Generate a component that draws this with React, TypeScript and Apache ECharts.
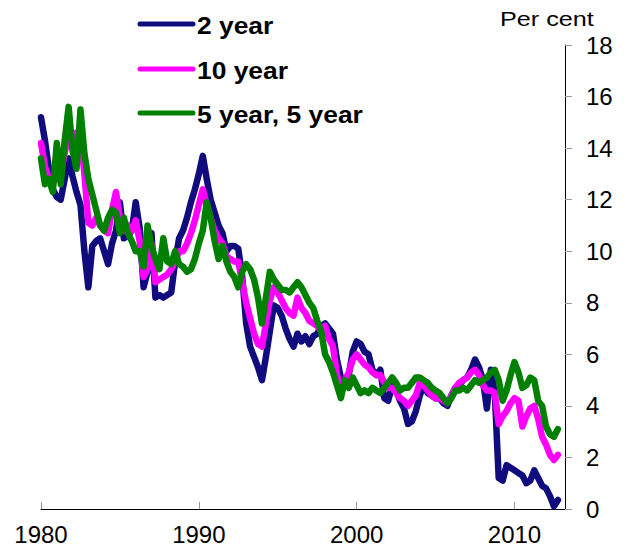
import React, { useEffect, useRef } from "react";
import * as echarts from "echarts";

// Quarterly observations, 1980 Q1 .. 2012 Q4
const startYear = 1980;
const quarters = 132;
const dates: number[] = Array.from({ length: quarters }, (_, i) => startYear + i / 4);

const twoYear: number[] = [
  15.2, 14.3, 13.2, 12.4, // 1980
  12.1, 12.0, 12.8, 13.6, // 1981
  12.9, 12.3, 11.8, 10.0, // 1982
  8.6, 10.2, 10.4, 10.5, // 1983
  10.0, 9.5, 10.3, 10.8, // 1984
  11.9, 10.5, 10.6, 10.8, // 1985
  11.9, 10.9, 8.6, 9.2, // 1986
  10.7, 8.2, 8.3, 8.2, // 1987
  8.3, 8.4, 9.6, 10.5, // 1988
  10.8, 11.3, 11.9, 12.4, // 1989
  13.0, 13.7, 12.8, 12.0, // 1990
  11.5, 11.0, 10.7, 10.0, // 1991
  10.2, 10.2, 10.1, 9.0, // 1992
  7.2, 6.3, 5.9, 5.5, // 1993
  5.0, 5.9, 6.9, 7.9, // 1994
  7.8, 7.5, 7.0, 6.6, // 1995
  6.3, 6.8, 6.5, 6.7, // 1996
  6.4, 6.7, 6.8, 7.1, // 1997
  7.2, 7.0, 6.8, 5.8, // 1998
  5.1, 4.8, 5.2, 6.1, // 1999
  6.5, 6.4, 6.1, 6.0, // 2000
  5.4, 5.2, 5.4, 4.3, // 2001
  4.2, 4.8, 4.6, 4.2, // 2002
  3.9, 3.3, 3.4, 3.8, // 2003
  4.4, 4.8, 4.5, 4.4, // 2004
  4.3, 4.3, 4.1, 4.0, // 2005
  4.4, 4.7, 4.8, 5.0, // 2006
  5.1, 5.4, 5.8, 5.5, // 2007
  5.0, 3.9, 5.4, 4.5, // 2008
  1.2, 1.1, 1.7, 1.6, // 2009
  1.5, 1.4, 1.3, 1.0, // 2010
  1.1, 1.5, 1.2, 0.9, // 2011
  0.8, 0.5, 0.1, 0.35, // 2012
];

const tenYear: number[] = [
  14.2, 13.3, 12.8, 12.7, // 1980
  12.8, 13.0, 13.8, 14.5, // 1981
  14.0, 14.6, 14.5, 13.0, // 1982
  11.1, 11.0, 11.3, 11.0, // 1983
  10.8, 10.7, 11.6, 12.3, // 1984
  11.3, 10.8, 11.0, 10.8, // 1985
  11.2, 10.4, 9.0, 9.3, // 1986
  10.3, 8.8, 8.9, 9.0, // 1987
  9.1, 9.3, 9.6, 10.0, // 1988
  10.0, 10.3, 10.7, 11.2, // 1989
  11.8, 12.4, 11.8, 11.3, // 1990
  10.8, 10.5, 10.3, 9.8, // 1991
  9.7, 9.6, 9.6, 8.8, // 1992
  8.0, 7.4, 6.8, 6.4, // 1993
  6.3, 7.2, 8.1, 8.6, // 1994
  8.4, 8.1, 7.8, 7.6, // 1995
  7.5, 8.2, 7.8, 7.6, // 1996
  7.3, 7.2, 7.1, 6.9, // 1997
  7.1, 6.6, 6.3, 5.2, // 1998
  4.7, 5.0, 5.3, 5.8, // 1999
  6.0, 5.8, 5.6, 5.5, // 2000
  5.3, 5.2, 5.2, 4.9, // 2001
  4.7, 4.7, 4.5, 4.3, // 2002
  4.2, 4.0, 4.2, 4.4, // 2003
  4.9, 4.8, 4.6, 4.4, // 2004
  4.3, 4.3, 4.2, 4.1, // 2005
  4.4, 4.7, 4.9, 5.0, // 2006
  5.1, 5.3, 5.4, 5.2, // 2007
  4.8, 4.6, 4.6, 4.5, // 2008
  3.3, 3.6, 3.8, 4.1, // 2009
  4.3, 4.2, 3.2, 3.6, // 2010
  3.9, 4.0, 3.5, 2.8, // 2011
  2.5, 2.1, 1.9, 2.1, // 2012
];

const fiveFive: number[] = [
  13.6, 12.6, 12.8, 12.3, // 1980
  14.2, 12.6, 14.3, 15.6, // 1981
  13.9, 13.2, 15.5, 13.8, // 1982
  12.8, 12.2, 11.6, 11.0, // 1983
  10.8, 11.3, 11.6, 11.5, // 1984
  10.7, 11.3, 10.7, 10.4, // 1985
  10.0, 10.0, 9.4, 11.0, // 1986
  10.2, 9.7, 9.3, 10.5, // 1987
  9.6, 9.5, 10.0, 9.5, // 1988
  9.4, 9.2, 9.3, 9.7, // 1989
  10.3, 10.8, 11.9, 11.3, // 1990
  10.4, 9.7, 10.2, 9.6, // 1991
  9.2, 9.0, 8.6, 9.2, // 1992
  9.5, 9.3, 8.9, 8.2, // 1993
  7.2, 8.2, 9.2, 8.9, // 1994
  8.7, 8.5, 8.5, 8.4, // 1995
  8.6, 8.8, 8.6, 8.3, // 1996
  8.0, 7.8, 7.3, 6.9, // 1997
  6.0, 5.7, 5.3, 4.8, // 1998
  4.3, 5.0, 4.7, 5.1, // 1999
  4.8, 4.5, 4.6, 4.5, // 2000
  4.7, 4.6, 4.5, 4.7, // 2001
  4.9, 5.1, 4.9, 4.6, // 2002
  4.7, 4.7, 4.9, 5.1, // 2003
  5.1, 5.0, 4.9, 4.7, // 2004
  4.6, 4.5, 4.3, 4.1, // 2005
  4.3, 4.6, 4.6, 4.7, // 2006
  4.6, 4.8, 5.0, 4.9, // 2007
  5.0, 5.1, 5.3, 5.4, // 2008
  5.0, 4.2, 4.6, 5.2, // 2009
  5.7, 5.3, 4.7, 4.8, // 2010
  5.1, 5.0, 4.2, 4.0, // 2011
  3.2, 2.9, 2.8, 3.1, // 2012
];

const seriesNames = ["2 year", "10 year", "5 year, 5 year"];
const seriesColors = ["#110c7e", "#ff00ff", "#008000"];
const yTicks = { min: 0, max: 18, interval: 2 };
const xTicks = { min: 1980, max: 2013.2, interval: 10 };
const unitLabel = "Per cent";

const FONT = 'Arial, "Liberation Sans", sans-serif';

export default function App() {
  const ref = useRef<HTMLDivElement>(null);
  useEffect(() => {
    if (!ref.current) return;
    const chart = echarts.init(ref.current, undefined, { renderer: "svg" });
    const all = [twoYear, tenYear, fiveFive];
    const legendY = [24, 69, 113];
    const legendGraphics: any[] = [];
    seriesNames.forEach((name, k) => {
      legendGraphics.push({
        type: "line",
        shape: { x1: 140, y1: legendY[k], x2: 193, y2: legendY[k] },
        style: { stroke: seriesColors[k], lineWidth: 5, lineCap: "round" },
      });
      legendGraphics.push({
        type: "text",
        x: 197,
        y: legendY[k] + 1,
        scaleX: 1.1,
        style: {
          text: name,
          font: `bold 24px ${FONT}`,
          fill: "#000",
          verticalAlign: "middle",
          align: "left",
        },
      });
    });
    chart.setOption({
      animation: false,
      backgroundColor: "#ffffff",
      grid: { left: 41, right: 63, top: 45, bottom: 50, containLabel: false },
      graphic: [
        ...legendGraphics,
        {
          type: "text",
          x: 500,
          y: 19,
          scaleX: 1.2,
          style: { text: unitLabel, font: `21px ${FONT}`, fill: "#000", verticalAlign: "middle", align: "left" },
        },
      ],
      xAxis: {
        type: "value",
        min: xTicks.min,
        max: xTicks.max,
        interval: xTicks.interval,
        splitLine: { show: false },
        axisLine: { show: true, lineStyle: { color: "#000", width: 1 } },
        axisTick: { show: true, inside: true, length: 7, lineStyle: { color: "#999" } },
        axisLabel: {
          showMaxLabel: false,
          margin: 13,
          fontFamily: FONT,
          fontSize: 24,
          color: "#000",
          formatter: (v: number) => String(Math.round(v)),
        },
      },
      yAxis: {
        type: "value",
        position: "right",
        min: yTicks.min,
        max: yTicks.max,
        interval: yTicks.interval,
        splitLine: { show: false },
        axisLine: { show: true, onZero: false, lineStyle: { color: "#000", width: 1 } },
        axisTick: { show: true, inside: false, length: 7, lineStyle: { color: "#999" } },
        axisLabel: { margin: 21, fontFamily: FONT, fontSize: 24, color: "#000" },
      },
      series: all.map((vals, k) => ({
        name: seriesNames[k],
        type: "line",
        showSymbol: false,
        symbol: "none",
        color: seriesColors[k],
        lineStyle: { width: 6.5, color: seriesColors[k], cap: "round", join: "round" },
        data: vals.map((v, i) => [dates[i], v]),
        z: 2 + k,
      })),
    });
    return () => chart.dispose();
  }, []);
  return (
    <div
      ref={ref}
      style={{ position: "fixed", left: 0, top: 0, width: 628, height: 559, background: "#fff" }}
    />
  );
}
